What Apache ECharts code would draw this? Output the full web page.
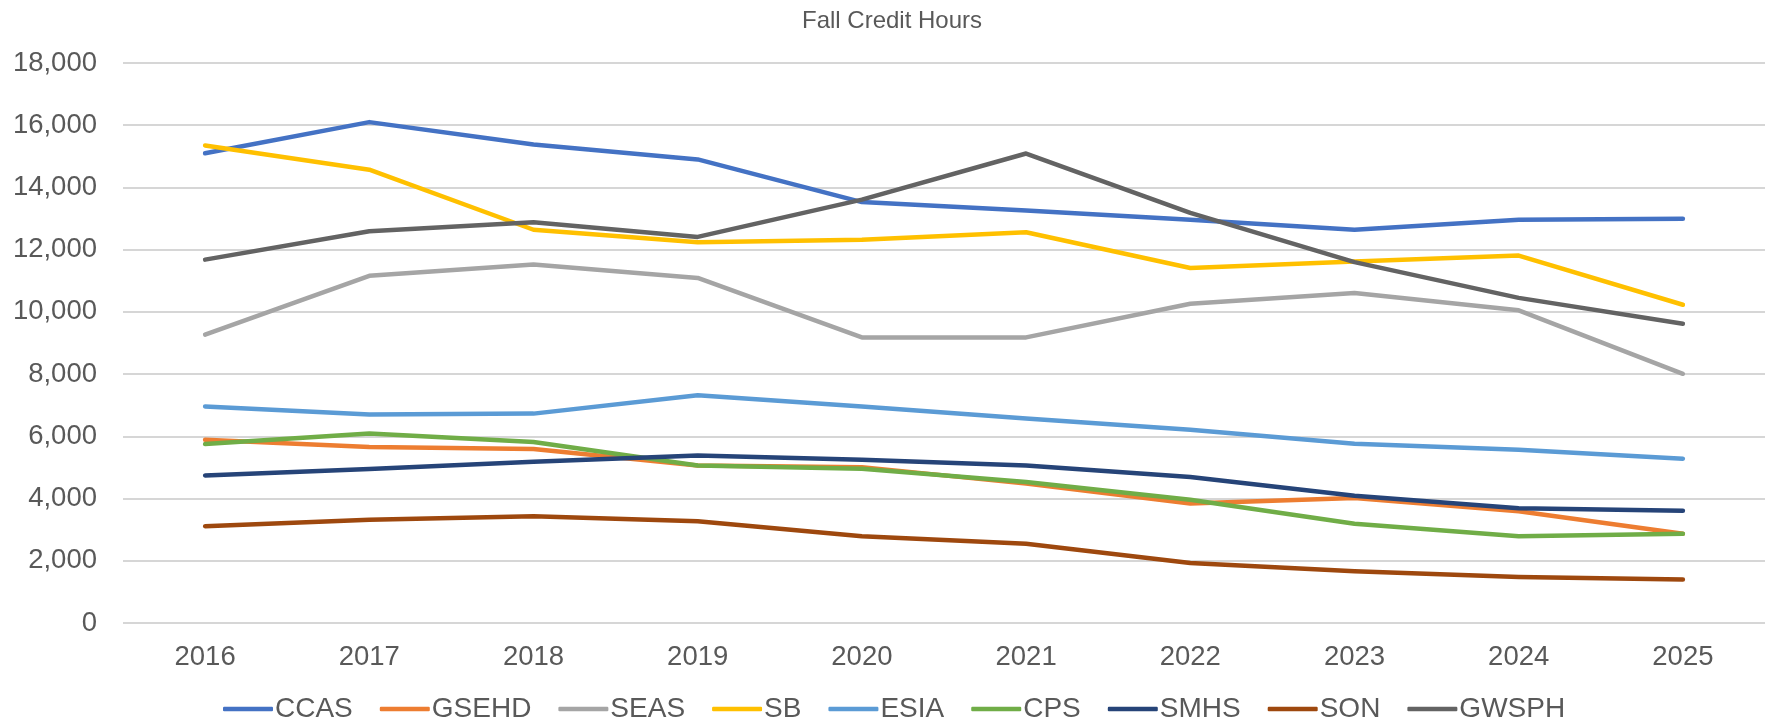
<!DOCTYPE html>
<html>
<head>
<meta charset="utf-8">
<script src="https://cdn.jsdelivr.net/npm/echarts@6/dist/echarts.min.js"></script>
<style>
html,body{margin:0;padding:0;background:#fff;}
#chart{width:1775px;height:722px;}
</style>
</head>
<body>
<div id="chart"></div>
<script>
const years = ['2016','2017','2018','2019','2020','2021','2022','2023','2024','2025'];
const yTicks = [0, 2000, 4000, 6000, 8000, 10000, 12000, 14000, 16000, 18000];
const CCAS  = [15100, 16100, 15380, 14900, 13530, 13260, 12960, 12640, 12960, 12990];
const GSEHD = [5890, 5660, 5590, 5060, 5010, 4480, 3840, 4020, 3590, 2870];
const SEAS  = [9270, 11160, 11520, 11090, 9180, 9180, 10260, 10610, 10050, 8010];
const SB    = [15350, 14570, 12640, 12240, 12320, 12560, 11410, 11620, 11810, 10230];
const ESIA  = [6960, 6700, 6730, 7320, 6960, 6570, 6210, 5760, 5570, 5280];
const CPS   = [5750, 6090, 5820, 5060, 4960, 4530, 3960, 3190, 2790, 2870];
const SMHS  = [4740, 4950, 5180, 5380, 5250, 5060, 4690, 4090, 3690, 3610];
const SON   = [3110, 3320, 3430, 3270, 2790, 2550, 1930, 1660, 1480, 1400];
const GWSPH = [11680, 12590, 12880, 12410, 13610, 15090, 13180, 11600, 10450, 9620];

const names = ['CCAS','GSEHD','SEAS','SB','ESIA','CPS','SMHS','SON','GWSPH'];
const dataSets = [CCAS, GSEHD, SEAS, SB, ESIA, CPS, SMHS, SON, GWSPH];
const colors = ['#4472C4','#ED7D31','#A5A5A5','#FFC000','#5B9BD5','#70AD47','#264478','#9E480E','#636363'];

const FONT = '"Liberation Sans", Arial, sans-serif';
const chart = echarts.init(document.getElementById('chart'), null, {renderer:'canvas'});
chart.setOption({
  animation: false,
  backgroundColor: '#fff',
  color: colors,
  title: {
    text: 'Fall Credit Hours',
    left: 797,
    top: 4,
    textStyle: {fontFamily: FONT, fontSize: 24, fontWeight: 'normal', color: '#595959'}
  },
  grid: {left: 123, right: 10, top: 63, bottom: 99, containLabel: false},
  xAxis: {
    type: 'category',
    data: years,
    boundaryGap: true,
    axisLine: {show: false},
    axisTick: {show: false},
    splitLine: {show: false},
    axisLabel: {margin: 20, fontFamily: FONT, fontSize: 27.5, color: '#595959'}
  },
  yAxis: {
    type: 'value',
    min: yTicks[0],
    max: yTicks[yTicks.length - 1],
    interval: yTicks[1] - yTicks[0],
    axisLine: {show: false},
    axisTick: {show: false},
    splitLine: {lineStyle: {color: '#C8C8C8', width: 1.5}},
    axisLabel: {
      margin: 26, fontFamily: FONT, fontSize: 27.5, color: '#595959',
      formatter: v => v.toLocaleString('en-US')
    }
  },
  legend: {
    data: names,
    left: 218,
    top: 690,
    itemWidth: 50,
    itemHeight: 4.5,
    itemGap: 27,
    icon: 'roundRect',
    textStyle: {fontFamily: FONT, fontSize: 28, color: '#595959', padding: [0,0,0,-3]}
  },
  series: names.map((n, i) => ({
    name: n,
    type: 'line',
    data: dataSets[i],
    showSymbol: false,
    symbol: 'none',
    smooth: false,
    lineStyle: {width: 4.5, color: colors[i], cap: 'round', join: 'round'},
    itemStyle: {color: colors[i]},
    emphasis: {disabled: true}
  }))
});
</script>
</body>
</html>
